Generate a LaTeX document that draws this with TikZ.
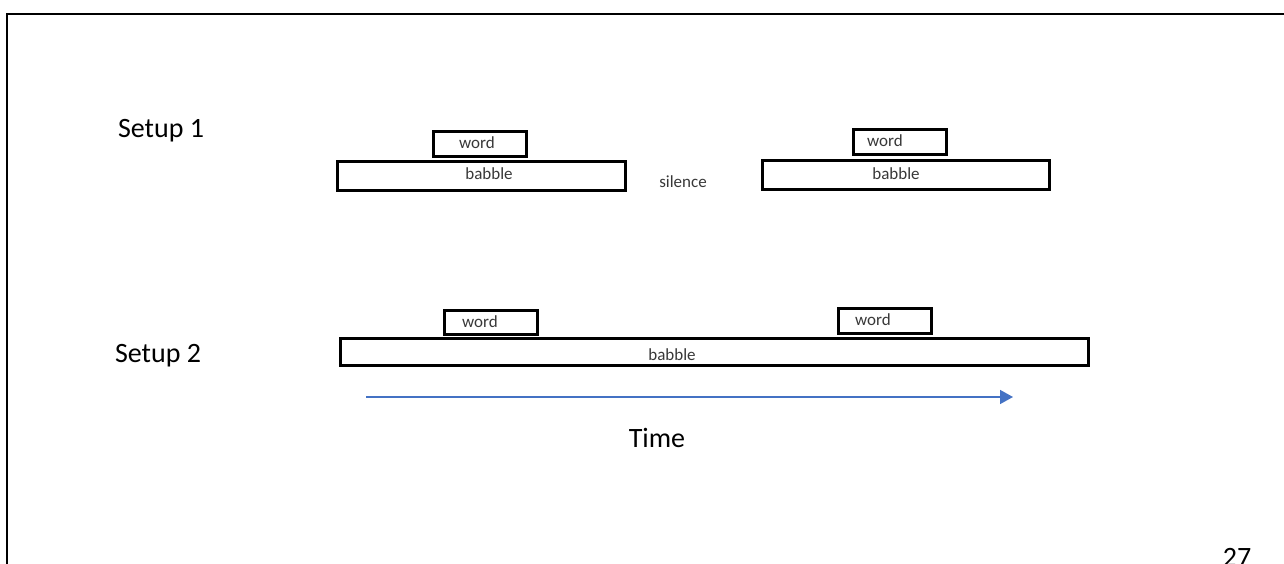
\documentclass[tikz,border=0pt]{standalone}
\usepackage{fontspec}
\setmainfont{Carlito}
\usetikzlibrary{arrows.meta}
\definecolor{timeblue}{RGB}{68,114,196}
\definecolor{boxtext}{RGB}{56,56,56}
\tikzset{
  seg/.style={draw=black, line width=3pt, fill=white, inner sep=0pt, rectangle},
  small/.style={font=\fontsize{17}{20}\selectfont, text=boxtext, inner sep=0pt},
  big/.style={font=\fontsize{28}{33}\selectfont, text=black, inner sep=0pt, anchor=base},
}
\begin{document}
\begin{tikzpicture}[x=1pt, y=-1pt]
  \useasboundingbox (0,0) rectangle (1284,564);
  % slide frame, running off the bottom and right edges
  \draw[line width=2.5pt] (7,564) -- (7,14) -- (1284,14);

  % row labels
  \node[big] (s1) at (161,138) {Setup 1};
  \node[big] (s2) at (158,362) {Setup 2};

  % Setup 1: two babble segments separated by silence
  \node[seg, minimum width=288pt, minimum height=29pt] (b1) at (481,176.5) {};
  \node[seg, minimum width=93pt, minimum height=25pt] (w1) at (479.5,144.5) {};
  \node[small] (b1t) at (489,174) {babble};
  \node[small] (w1t) at (477,143) {word};

  \node[small] (sil) at (683,182) {silence};

  \node[seg, minimum width=287pt, minimum height=29pt] (b2) at (905.5,175.5) {};
  \node[seg, minimum width=93pt, minimum height=25pt] (w2) at (899.5,142.5) {};
  \node[small] (b2t) at (896,174) {babble};
  \node[small] (w2t) at (885,141) {word};

  % Setup 2: one continuous babble with two words
  \node[seg, minimum width=748pt, minimum height=27pt] (b3) at (714,351.5) {};
  \node[seg, minimum width=93pt, minimum height=24pt] (w3) at (490.5,322) {};
  \node[seg, minimum width=93pt, minimum height=25pt] (w4) at (884.5,320.5) {};
  \node[small] (b3t) at (672,355) {babble};
  \node[small] (w3t) at (480,322) {word};
  \node[small] (w4t) at (873,320) {word};

  % time axis
  \coordinate (t0) at (366,397);
  \coordinate (t1) at (1013,397);
  \draw[timeblue, line width=1.5pt, -{Triangle[length=13pt, width=14pt]}] (t0) -- (t1);
  \node[big] (time) at (657,447) {Time};

  % page number, partly below the page edge
  \node[big] (pg) at (1237,566) {27};
\end{tikzpicture}
\end{document}
